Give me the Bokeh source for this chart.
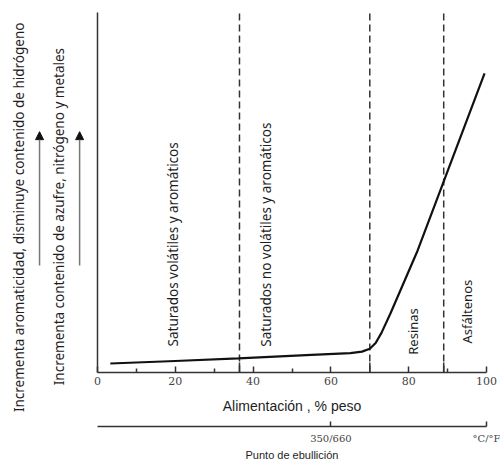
import numpy as np
from bokeh.plotting import figure
from bokeh.layouts import row
from bokeh.models import LinearAxis, FixedTicker, Range1d, Label, Arrow, NormalHead
from bokeh.embed import file_html
from bokeh.resources import INLINE

# ---- data ----
feed_ticks = [0, 20, 40, 60, 80, 100]
feed_minor_ticks = [10, 30, 50, 90]
boundaries = [36.5, 70, 89]
curve_x = [3.3, 20, 36.2, 55, 65, 68, 70, 71.5, 73, 75.3, 82.3, 99.5]
curve_y = [2.5, 3.2, 3.9, 4.9, 5.4, 5.8, 6.6, 8.2, 11.0, 16.4, 33.9, 83.1]
region_names = ["Saturados volátiles y aromáticos",
                "Saturados no volátiles y aromáticos",
                "Resinas", "Asfáltenos"]
trend_labels = ["Incrementa aromaticidad, disminuye contenido de hidrógeno",
                "Incrementa contenido de azufre, nitrógeno y metales"]
boil_ticks = [60, 100]
boil_labels = ["350/660", "°C/°F"]
x_title = "Alimentación , % peso"
boil_title = "Punto de ebullición"

# ---- layout / style ----
region_pos = [(19.5, 35.6), (43.2, 38.3), (81.0, 11.4), (94.9, 16.9)]
region_size = ["13.5px", "13.5px", "13px", "13px"]
trend_pos = [(-20.3, 43.1), (-9.8, 43.3)]
trend_size = ["13.5px", "13.5px"]
arrow_x = [-14.9, -4.6]
arrow_y = (29.7, 66.9)
TXT = "#1e1e1e"
AX = "#333333"

# ---------- left strip (trend notes), same data scale as the main chart ----------
left = figure(width=90, height=463, x_range=Range1d(-24.94, -1.80), y_range=Range1d(-25.28, 103.33),
              output_backend="svg", toolbar_location=None,
              x_axis_location=None, y_axis_location=None, frame_align=False,
              min_border_left=0, min_border_right=0, min_border_top=0, min_border_bottom=0)
left.grid.visible = False
left.outline_line_color = None
for name, (x, y), fs in zip(trend_labels, trend_pos, trend_size):
    left.add_layout(Label(x=x, y=y, text=name, angle=np.pi / 2, text_align="center",
                          text_baseline="middle", text_font="Noto Sans", text_font_size=fs,
                          text_color=TXT))
for ax_ in arrow_x:
    left.add_layout(Arrow(x_start=ax_, y_start=arrow_y[0], x_end=ax_, y_end=arrow_y[1],
                          line_color="#777777", line_width=1.5,
                          end=NormalHead(size=8, fill_color="#111111", line_color="#111111")))

# ---------- main chart ----------
p = figure(width=410, height=463, x_range=Range1d(0, 100), y_range=Range1d(0, 100),
           output_backend="svg", toolbar_location=None, frame_align=False,
           min_border_left=7, min_border_right=14, min_border_top=12, min_border_bottom=91)
p.grid.visible = False
p.outline_line_color = None

ya = p.yaxis[0]
ya.ticker = FixedTicker(ticks=[])
ya.axis_line_color = AX
ya.axis_line_width = 1.5
ya.major_label_text_font_size = "0px"
ya.major_label_standoff = 0
ya.major_tick_out = 0
ya.major_tick_in = 0
ya.minor_tick_out = 0
ya.minor_tick_in = 0

xa = p.xaxis[0]
xa.ticker = FixedTicker(ticks=feed_ticks, minor_ticks=feed_minor_ticks)
xa.axis_line_color = AX
xa.axis_line_width = 1.5
xa.major_tick_in = 6
xa.major_tick_out = 0
xa.minor_tick_in = 4
xa.minor_tick_out = 0
xa.major_tick_line_color = AX
xa.minor_tick_line_color = AX
xa.major_tick_line_width = 1.5
xa.minor_tick_line_width = 1.5
xa.major_label_standoff = 4
xa.major_label_text_font = "DejaVu Serif"
xa.major_label_text_font_size = "11px"
xa.major_label_text_color = "#444444"
xa.axis_label = x_title
xa.axis_label_text_font = "Liberation Sans"
xa.axis_label_text_font_size = "14px"
xa.axis_label_text_font_style = "normal"
xa.axis_label_text_color = TXT
xa.axis_label_standoff = 10

sp = LinearAxis(ticker=FixedTicker(ticks=[]), axis_line_color=None,
                major_tick_out=0, major_tick_in=0, major_label_standoff=0,
                major_tick_line_color=None, minor_tick_line_color=None,
                axis_label="\u00a0", axis_label_text_font_size="5px", axis_label_standoff=1)
p.add_layout(sp, "below")

ba = LinearAxis(ticker=FixedTicker(ticks=boil_ticks),
                axis_line_color=AX, axis_line_width=1.5,
                major_tick_in=5, major_tick_out=0, major_tick_line_color=AX,
                major_tick_line_width=1.5, minor_tick_line_color=None,
                major_label_overrides={t: l for t, l in zip(boil_ticks, boil_labels)},
                major_label_standoff=6, major_label_text_color="#444444",
                major_label_text_font="DejaVu Serif", major_label_text_font_size="10px",
                axis_label=boil_title, axis_label_text_font="Liberation Sans",
                axis_label_text_font_size="11px", axis_label_text_font_style="normal",
                axis_label_text_color=TXT, axis_label_standoff=2)
p.add_layout(ba, "below")

p.segment(x0=boundaries, y0=[0] * len(boundaries), x1=boundaries, y1=[100] * len(boundaries),
          line_color=AX, line_width=1.5, line_dash="7 4")
p.segment(x0=boundaries, y0=[0] * len(boundaries), x1=boundaries, y1=[2.8] * len(boundaries),
          line_color=AX, line_width=1.5)

p.line(curve_x, curve_y, line_color="#111111", line_width=2.2)

for name, (x, y), fs in zip(region_names, region_pos, region_size):
    p.add_layout(Label(x=x, y=y, text=name, angle=np.pi / 2, text_align="center",
                       text_baseline="middle", text_font="Noto Sans", text_font_size=fs,
                       text_color=TXT))

layout = row(left, p)
open("out.html", "w").write(file_html(layout, INLINE))
